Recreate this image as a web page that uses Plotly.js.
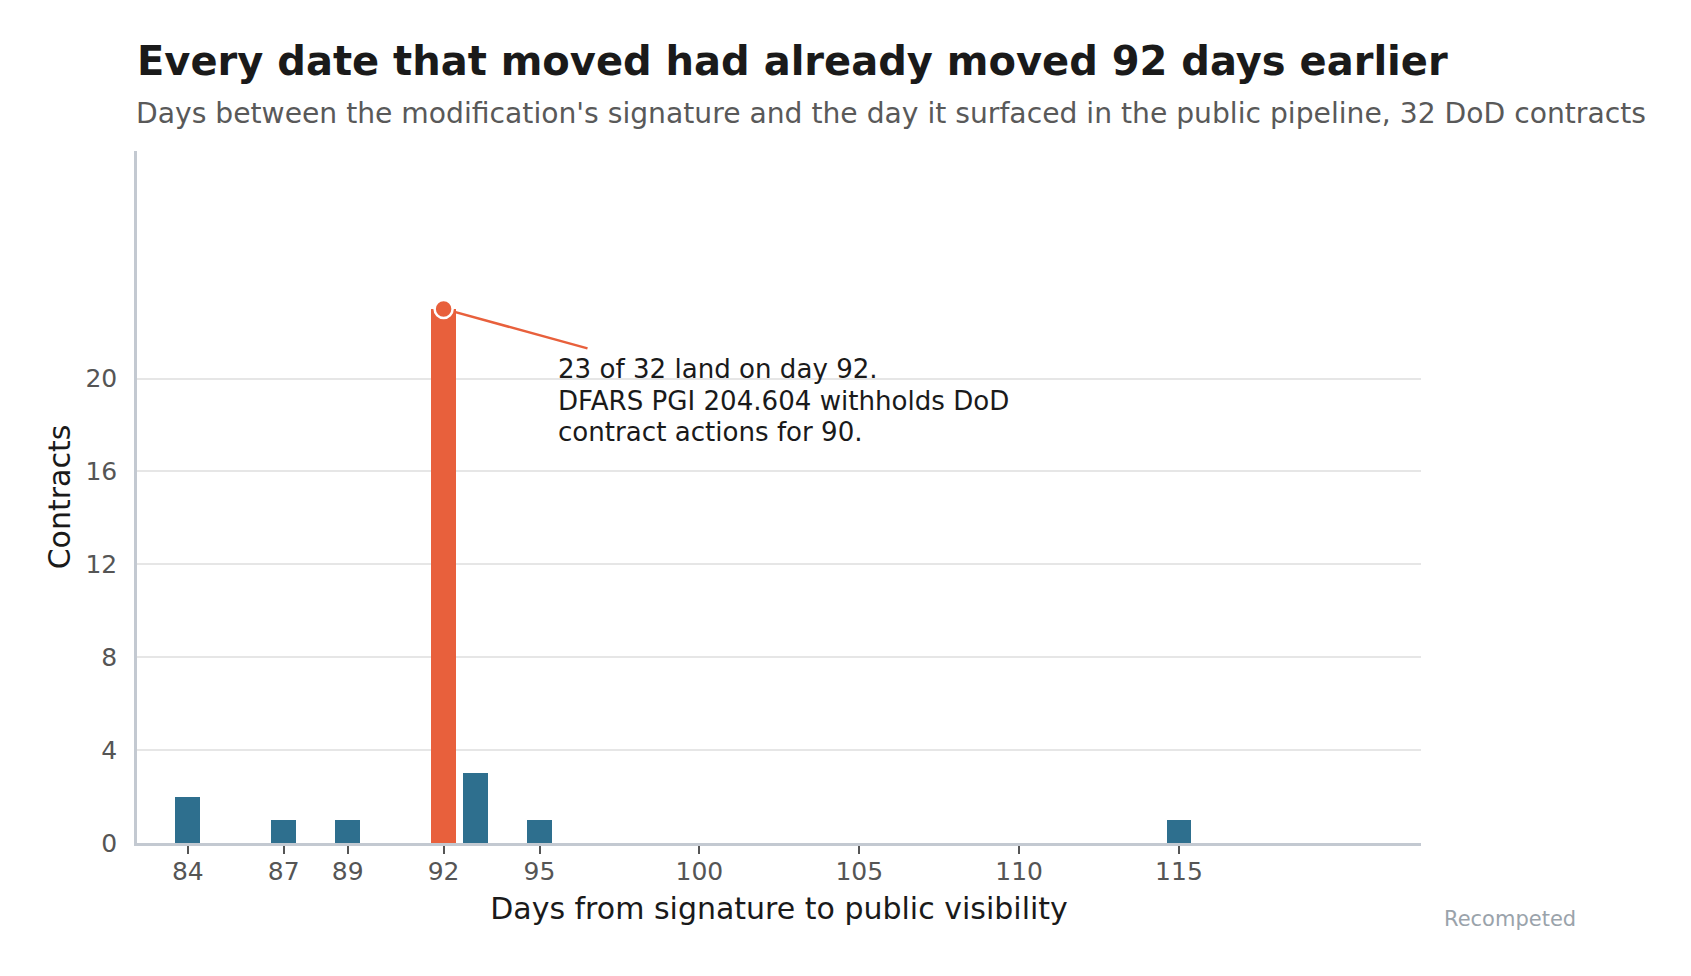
<!DOCTYPE html>
<html>
<head>
<meta charset="utf-8">
<script src="https://cdn.plot.ly/plotly-3.0.1.min.js"></script>
<style>
    html, body { margin: 0; padding: 0; background: #ffffff; }
    #chart { width: 1691px; height: 976px; }
</style>
</head>
<body>
<div id="chart"></div>
<script>
// ── Data ──
const days = [84, 87, 89, 92, 93, 95, 115];
const contracts = [2, 1, 1, 23, 3, 1, 1];
const highlightDay = 92;
const xTickVals = [84, 87, 89, 92, 95, 100, 105, 110, 115];
const yTickVals = [0, 4, 8, 12, 16, 20];
const noteLines = [
    '23 of 32 land on day 92.',
    'DFARS PGI 204.604 withholds DoD',
    'contract actions for 90.'
];

// ── Styles ──
const BLUE = '#2e6f8e';
const ORANGE = '#e8603c';
const FONT = 'DejaVu Sans, sans-serif';
const AXIS_LINE = '#c3c9d1';
const NOTE_LINE_HEIGHT = 31.5;

const peak = contracts[days.indexOf(highlightDay)];

const bars = {
    x: days,
    y: contracts,
    type: 'bar',
    width: 0.78,
    marker: {
        color: days.map(d => d === highlightDay ? ORANGE : BLUE),
        line: { width: 0 },
    },
    hoverinfo: 'x+y',
};

const dot = {
    x: [highlightDay],
    y: [peak],
    type: 'scatter',
    mode: 'markers',
    marker: { color: ORANGE, size: 18, line: { color: '#ffffff', width: 2.5 } },
    hoverinfo: 'skip',
    cliponaxis: false,
};

// Annotation text, one line per note so the line spacing can be set
const noteAnnotations = noteLines.map((line, i) => ({
    text: line,
    xref: 'x', yref: 'y',
    x: 95.6, y: 21.05,
    xanchor: 'left', yanchor: 'top',
    xshift: -3,
    yshift: 2 - i * NOTE_LINE_HEIGHT,
    align: 'left',
    showarrow: false,
    font: { family: FONT, size: 26.1, color: '#1a1a1a' },
}));

const layout = {
    width: 1691,
    height: 976,
    paper_bgcolor: '#ffffff',
    plot_bgcolor: '#ffffff',
    margin: { l: 137, r: 270, t: 151, b: 133 },
    showlegend: false,
    bargap: 0,
    font: { family: FONT, color: '#1a1a1a' },
    title: {
        text: '<b>Every date that moved had already moved 92 days earlier</b>',
        font: { family: FONT, size: 40, color: '#1a1a1a' },
        xref: 'paper',
        x: 0,
        xanchor: 'left',
        yref: 'container',
        y: 1 - 61 / 976,
        yanchor: 'middle',
    },
    xaxis: {
        range: [82.41, 122.57],
        tickvals: xTickVals,
        ticktext: xTickVals.map(String),
        ticks: 'outside',
        ticklen: 8,
        tickwidth: 2,
        tickcolor: '#555555',
        ticklabelstandoff: -4,
        tickfont: { family: FONT, size: 25, color: '#555555' },
        showgrid: false,
        zeroline: false,
        showline: true,
        linecolor: AXIS_LINE,
        linewidth: 2.5,
        fixedrange: true,
        title: {
            text: 'Days from signature to public visibility',
            font: { family: FONT, size: 30, color: '#1a1a1a' },
            standoff: 14,
        },
    },
    yaxis: {
        range: [0, 29.8],
        tickvals: yTickVals,
        ticktext: yTickVals.map(String),
        ticks: '',
        ticklabelstandoff: 12,
        tickfont: { family: FONT, size: 25, color: '#555555' },
        showgrid: true,
        gridcolor: '#e6e6e6',
        gridwidth: 1.5,
        zeroline: false,
        showline: true,
        linecolor: AXIS_LINE,
        linewidth: 2.5,
        fixedrange: true,
        title: {
            text: 'Contracts',
            font: { family: FONT, size: 30, color: '#1a1a1a' },
            standoff: 6,
        },
    },
    shapes: [{
        type: 'line',
        layer: 'below',
        xref: 'x', yref: 'y',
        x0: highlightDay, y0: peak,
        x1: 96.5, y1: 21.3,
        line: { color: ORANGE, width: 2.5 },
    }],
    annotations: [
        {
            text: "Days between the modification's signature and the day it surfaced in the public pipeline, 32 DoD contracts",
            xref: 'paper', yref: 'paper',
            x: 0, y: 1 + (151 - 113) / 692,
            xanchor: 'left', yanchor: 'middle',
            xshift: -3,
            showarrow: false,
            font: { family: FONT, size: 28.2, color: '#595959' },
        },
        ...noteAnnotations,
        {
            text: 'Recompeted',
            xref: 'paper', yref: 'paper',
            x: (1578 - 137) / 1284, y: (843 - 919) / 692,
            xanchor: 'right', yanchor: 'middle',
            showarrow: false,
            font: { family: FONT, size: 21, color: '#9aa3ab' },
        },
    ],
};

Plotly.newPlot('chart', [bars, dot], layout, { displayModeBar: false, responsive: false });
</script>
</body>
</html>
